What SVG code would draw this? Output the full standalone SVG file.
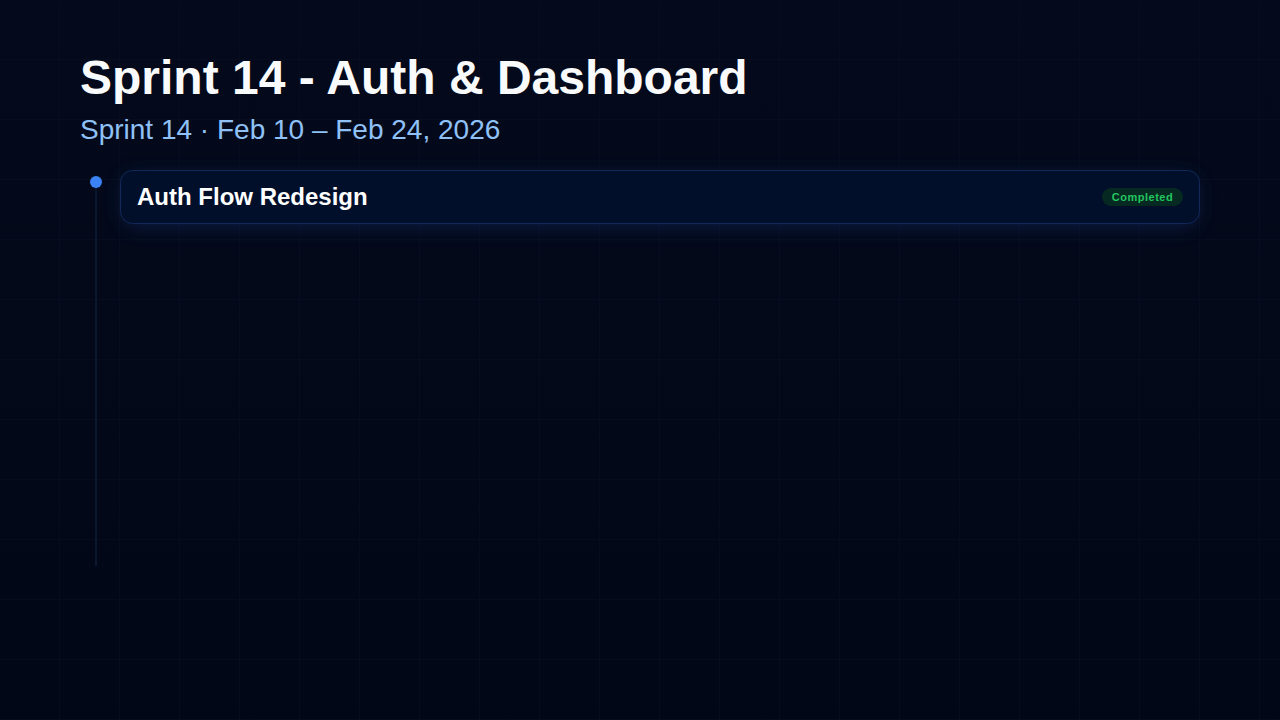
<svg xmlns="http://www.w3.org/2000/svg" width="1280" height="720" viewBox="0 0 1280 720">
<defs>
<pattern id="grid" width="60" height="60" patternUnits="userSpaceOnUse">
<path d="M60 0V60M0 60H60" fill="none" stroke="#081024" stroke-width="1"/>
</pattern>
<linearGradient id="bg" x1="0" y1="0" x2="0" y2="1">
<stop offset="0" stop-color="#040a1b"/>
<stop offset="1" stop-color="#010716"/>
</linearGradient>
<filter id="glow" x="-10%" y="-100%" width="120%" height="300%">
<feGaussianBlur stdDeviation="10"/>
</filter>
<style>
.title{font-family:"Liberation Sans",Arial,sans-serif;font-weight:700;font-size:48px;fill:#f8fafc}
.sub{font-family:"Liberation Sans",Arial,sans-serif;font-size:28px;fill:#8fc1f7}
.card{fill:#020f2b;stroke:#13285a;stroke-width:1}
.ctitle{font-family:"Liberation Sans",Arial,sans-serif;font-weight:700;font-size:24px;fill:#ffffff}
.badge{fill:#062a22}
.btext{font-family:"Liberation Sans",Arial,sans-serif;font-weight:700;font-size:11px;fill:#22c55e;letter-spacing:0.5px}
</style>
</defs>
<rect width="1280" height="720" fill="url(#bg)"/>
<rect width="1280" height="720" fill="url(#grid)"/>
<g id="header">
<text class="title" x="80" y="94">Sprint 14 - Auth &amp; Dashboard</text>
<text class="sub" x="80" y="139">Sprint 14 · Feb 10 – Feb 24, 2026</text>
</g>
<g id="connectors">
<line x1="96" y1="182" x2="96" y2="566" stroke="#0b1630" stroke-width="2"/>
</g>
<g id="dot">
<circle cx="96" cy="182" r="6" fill="#3b82f6"/>
</g>
<g id="card-auth">
<rect x="124" y="176" width="1072" height="50" rx="12" fill="#1d3a8a" opacity="0.4" filter="url(#glow)"/>
<rect class="card" x="120.5" y="170.5" width="1079" height="53" rx="12"/>
<text class="ctitle" x="137" y="205">Auth Flow Redesign</text>
<rect class="badge" x="1102" y="188" width="81" height="18" rx="9"/>
<text class="btext" x="1142.5" y="201" text-anchor="middle">Completed</text>
</g>
</svg>
